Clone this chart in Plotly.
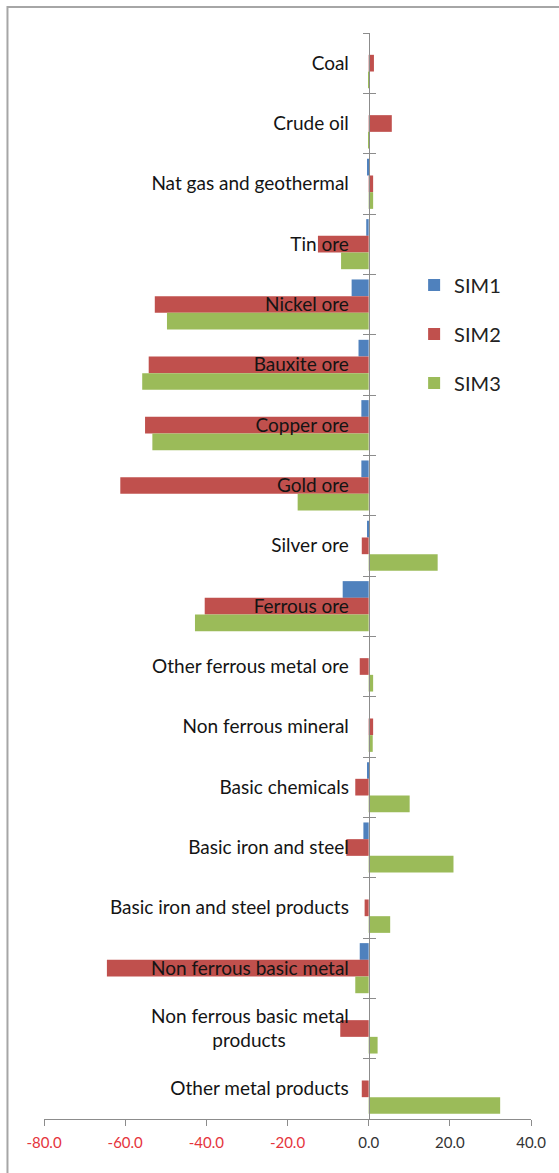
import plotly.graph_objects as go

# Sector categories (top to bottom)
categories = [
    "Coal",
    "Crude oil",
    "Nat gas and geothermal",
    "Tin ore",
    "Nickel ore",
    "Bauxite ore",
    "Copper ore",
    "Gold ore",
    "Silver ore",
    "Ferrous ore",
    "Other ferrous metal ore",
    "Non ferrous mineral",
    "Basic chemicals",
    "Basic iron and steel",
    "Basic iron and steel products",
    "Non ferrous basic metal",
    "Non ferrous basic metal products",
    "Other metal products",
]

# Percentage change by simulation
sim1 = [0.0, 0.0, -0.3, -0.6, -4.2, -2.5, -1.8, -1.8, -0.2, -6.4,
        0.0, 0.0, -0.3, -1.3, 0.0, -2.2, 0.0, 0.0]
sim2 = [1.3, 5.7, 1.1, -12.5, -52.7, -54.2, -55.1, -61.2, -1.7, -40.4,
        -2.2, 1.1, -3.3, -5.5, -1.0, -64.5, -7.0, -1.7]
sim3 = [0.3, 0.3, 1.1, -6.8, -49.7, -55.8, -53.3, -17.5, 17.0, -42.8,
        1.1, 1.0, 10.1, 20.9, 5.3, -3.3, 2.2, 32.4]

series_names = ["SIM1", "SIM2", "SIM3"]
series_colors = ["#4F81BD", "#C0504D", "#9BBB59"]

x_ticks = [-80, -60, -40, -20, 0, 20, 40]
x_min, x_max = -80, 40

# Two-line label for the long category, second line centred under the first
pad = "\u00a0" * 13
tick_text_y = [
    ("Non ferrous basic metal<br>products" + pad) if c == "Non ferrous basic metal products" else c
    for c in categories
]


def fmt_tick(v):
    s = f"{v:.1f}"
    if v < 0:
        return f"<span style='color:#E5343C'>{s}</span>"
    return s


fig = go.Figure()
for name, vals, col in zip(series_names, [sim1, sim2, sim3], series_colors):
    fig.add_trace(go.Bar(
        x=vals, y=categories, orientation="h", name=name,
        marker=dict(color=col, line=dict(width=0)),
        legendgroup=name,
    ))

# Invisible helper trace carrying the categories for the inner tick axis
fig.add_trace(go.Scatter(
    x=[0] * len(categories), y=categories, yaxis="y2", mode="markers",
    marker=dict(opacity=0), showlegend=False, hoverinfo="skip",
))

zero_pos = (0 - x_min) / (x_max - x_min)
n = len(categories)
label_font = dict(family="Lato", size=19, color="#141414")

fig.update_layout(
    width=559, height=1173,
    margin=dict(l=44, r=28, t=33, b=54),
    paper_bgcolor="white", plot_bgcolor="white",
    barmode="group", bargap=0.17, bargroupgap=0,
    showlegend=True,
    legend=dict(
        x=0.76, y=0.786, xanchor="left", yanchor="top",
        font=dict(family="Lato", size=20, color="#222222"),
        tracegroupgap=20, itemwidth=30,
        bgcolor="rgba(0,0,0,0)",
    ),
    xaxis=dict(
        range=[x_min, x_max], tickvals=x_ticks,
        ticktext=[fmt_tick(v) for v in x_ticks],
        ticks="outside", ticklen=6, tickcolor="#8c8c8c", tickwidth=1,
        showline=True, linecolor="#8c8c8c", linewidth=1,
        showgrid=False, zeroline=False,
        ticklabelstandoff=4,
        tickfont=dict(family="Lato", size=15, color="#333333"),
        fixedrange=True,
    ),
    yaxis=dict(
        type="category", categoryorder="array", categoryarray=categories,
        range=[n - 0.5, -0.5],
        anchor="free", position=zero_pos, side="left",
        tickvals=categories, ticktext=tick_text_y,
        tickson="boundaries", ticks="outside", ticklen=6,
        tickcolor="#8c8c8c", tickwidth=1,
        showline=True, linecolor="#8c8c8c", linewidth=1,
        showgrid=False, zeroline=False,
        ticklabelstandoff=16,
        tickfont=label_font,
    ),
    yaxis2=dict(
        type="category", categoryorder="array", categoryarray=categories,
        range=[n - 0.5, -0.5],
        overlaying="y", anchor="free", position=zero_pos, side="left",
        tickson="boundaries", ticks="inside", ticklen=6,
        tickcolor="#8c8c8c", tickwidth=1,
        showticklabels=False, showline=False,
        showgrid=False, zeroline=False,
    ),
    shapes=[dict(
        type="rect", xref="paper", yref="paper",
        x0=-0.075, x1=1.3, y0=-0.2, y1=1.0239,
        line=dict(color="#a6a6a6", width=2), fillcolor="rgba(0,0,0,0)",
        layer="below",
    )],
)

fig.write_html("out.html")
